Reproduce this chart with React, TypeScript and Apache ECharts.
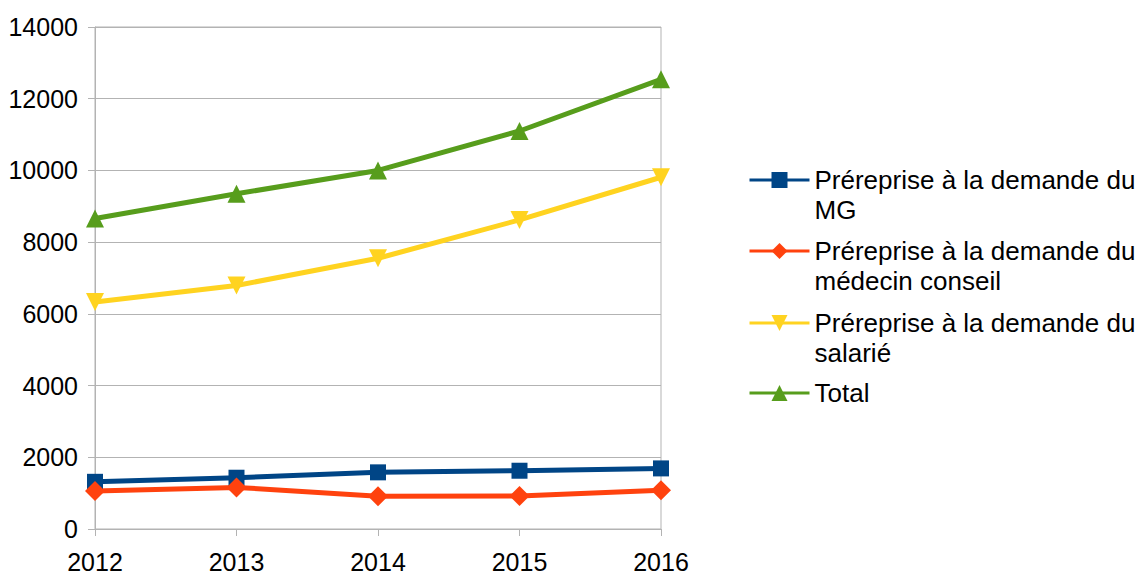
import React, { useEffect, useRef } from "react";
import * as echarts from "echarts";

const years = ["2012", "2013", "2014", "2015", "2016"];
const mgValues = [1316, 1430, 1580, 1625, 1690];
const conseilValues = [1060, 1160, 916, 920, 1084];
const salarieValues = [6330, 6790, 7550, 8620, 9810];
const totalValues = [8660, 9350, 10000, 11100, 12540];
const yTicks = { min: 0, max: 14000, interval: 2000 };

const names = [
  "Préreprise à la demande du MG",
  "Préreprise à la demande du médecin conseil",
  "Préreprise à la demande du salarié",
  "Total",
];
const legendLabels: Record<string, string> = {
  "Préreprise à la demande du MG": "\nPréreprise à la demande du\nMG",
  "Préreprise à la demande du médecin conseil": "\nPréreprise à la demande du\nmédecin conseil",
  "Préreprise à la demande du salarié": "\nPréreprise à la demande du\nsalarié",
  Total: "Total",
};
const colors = ["#004586", "#ff420e", "#ffd320", "#579d1c"];

const FONT = "'Liberation Sans', Arial, sans-serif";
const FS = 25;

export default function App() {
  const ref = useRef<HTMLDivElement>(null);
  useEffect(() => {
    document.body.style.margin = "0";
    if (!ref.current) return;
    const chart = echarts.init(ref.current, undefined, { renderer: "svg" });
    const legendTops = [135, 206, 278, 378];
    const legends = names.map((n, i) => ({
      data: [n],
      left: 748,
      top: legendTops[i],
      padding: 0,
      itemWidth: 60,
      itemHeight: 20,
      itemGap: 0,
      formatter: (name: string) => legendLabels[name],
      textStyle: {
        fontFamily: FONT,
        fontSize: 26,
        color: "#000",
        lineHeight: 30,
      },
      lineStyle: { width: 3 },
    }));
    const mk = (name: string, data: number[], color: string, symbol: string, size: number, rotate = 0) => ({
      name,
      type: "line",
      data,
      symbol,
      symbolSize: size,
      symbolRotate: rotate,
      showAllSymbol: true,
      lineStyle: { color, width: 5 },
      itemStyle: { color },
      emphasis: { disabled: true },
    });
    chart.setOption({
      animation: false,
      color: colors,
      textStyle: { fontFamily: FONT },
      grid: {
        left: 95,
        right: 476,
        top: 27,
        bottom: 47,
        show: true,
        borderColor: "#b3b3b3",
        borderWidth: 1,
      },
      legend: legends,
      xAxis: {
        type: "category",
        data: years,
        boundaryGap: false,
        axisLine: { lineStyle: { color: "#b3b3b3", width: 1 } },
        axisTick: { show: true, alignWithLabel: true, length: 7, lineStyle: { color: "#b3b3b3" } },
        axisLabel: { color: "#000", fontSize: FS, fontFamily: FONT, margin: 20 },
        splitLine: { show: false },
      },
      yAxis: {
        type: "value",
        min: yTicks.min,
        max: yTicks.max,
        interval: yTicks.interval,
        axisLine: { show: true, lineStyle: { color: "#b3b3b3", width: 1 } },
        axisTick: { show: true, length: 7, lineStyle: { color: "#b3b3b3" } },
        axisLabel: { color: "#000", fontSize: FS, fontFamily: FONT, margin: 17, formatter: (v: number) => String(v) },
        splitLine: { show: true, lineStyle: { color: "#b3b3b3", width: 1 } },
      },
      series: [
        mk(names[0], mgValues, colors[0], "rect", 16),
        mk(names[1], conseilValues, colors[1], "diamond", 20),
        mk(names[2], salarieValues, colors[2], "triangle", 18, 180),
        mk(names[3], totalValues, colors[3], "triangle", 18),
      ],
    });
    return () => chart.dispose();
  }, []);
  return <div ref={ref} style={{ width: 1137, height: 576 }} />;
}
